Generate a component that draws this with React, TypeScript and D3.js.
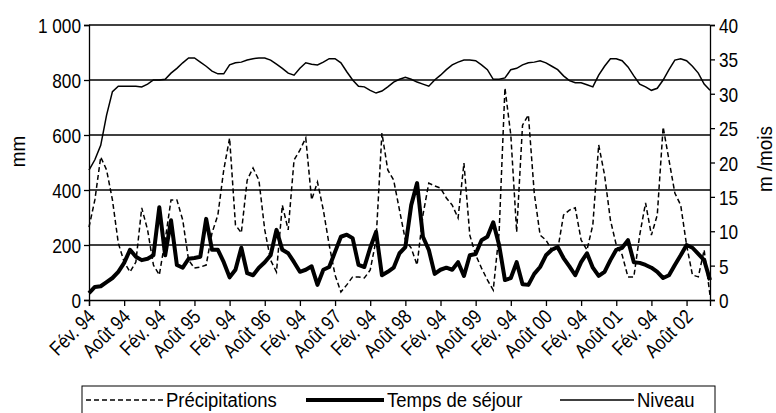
import React, { useEffect, useRef } from "react";
import * as d3 from "d3";

// monthly series, Feb 1994 -> Dec 2002
const precipitations = [
  265, 364, 520, 473, 364, 207, 138, 102, 138, 335,
  255, 127, 91, 218, 364, 364, 291, 145, 116, 120,
  127, 244, 309, 473, 589, 273, 244, 436, 480, 436,
  255, 145, 102, 345, 255, 509, 545, 589, 364, 429,
  327, 200, 91, 29, 55, 84, 84, 80, 109, 218,
  607, 473, 436, 327, 218, 189, 127, 309, 425, 415,
  407, 371, 345, 298, 498, 236, 164, 116, 73, 36,
  244, 771, 600, 247, 636, 673, 389, 236, 218, 182,
  182, 309, 327, 335, 218, 182, 273, 564, 455, 291,
  200, 164, 84, 84, 236, 353, 236, 309, 629, 509,
  389, 345, 200, 91, 84, 182, 18,
];

const tempsSejour = [
  1.0, 1.9, 2.0, 2.6, 3.2, 4.1, 5.4, 7.3, 6.3, 5.8,
  6.0, 6.5, 13.5, 6.5, 11.6, 5.1, 4.7, 6.0, 6.1, 6.3,
  11.8, 7.3, 7.3, 5.5, 3.3, 4.4, 7.6, 3.9, 3.6, 4.7,
  5.5, 6.5, 10.2, 7.3, 6.8, 5.5, 4.1, 4.4, 4.9, 2.2,
  4.4, 4.8, 7.0, 9.2, 9.5, 9.0, 5.1, 4.8, 7.6, 9.9,
  3.6, 4.1, 4.7, 6.8, 7.7, 13.8, 17.0, 9.2, 7.3, 3.8,
  4.4, 4.7, 4.4, 5.5, 3.5, 6.5, 6.7, 8.7, 9.2, 11.3,
  8.0, 2.9, 3.2, 5.5, 2.3, 2.2, 3.8, 4.8, 6.5, 7.3,
  7.7, 6.1, 4.9, 3.6, 5.5, 6.8, 4.7, 3.5, 4.1, 5.8,
  7.3, 7.6, 8.7, 5.5, 5.4, 5.1, 4.7, 4.1, 3.2, 3.6,
  5.1, 6.5, 8.0, 7.6, 6.7, 5.8, 2.9,
];

const niveau = [
  18.9, 20.4, 22.5, 26.9, 30.3, 31.1, 31.1, 31.1, 31.1, 31.0,
  31.4, 32.0, 32.0, 32.1, 33.0, 33.7, 34.5, 35.2, 35.2, 34.6,
  34.0, 33.3, 32.9, 32.9, 34.2, 34.5, 34.6, 34.9, 35.1, 35.2,
  35.2, 34.9, 34.3, 33.7, 33.0, 32.7, 33.7, 34.5, 34.3, 34.2,
  34.6, 35.1, 35.1, 34.5, 33.2, 32.0, 31.1, 31.0, 30.5, 30.1,
  30.4, 31.0, 31.7, 32.1, 32.4, 32.1, 31.7, 31.4, 31.1, 32.0,
  32.7, 33.5, 34.2, 34.6, 34.9, 34.9, 34.8, 34.2, 33.5, 32.1,
  32.1, 32.3, 33.5, 33.7, 34.2, 34.5, 34.6, 34.8, 34.5, 34.0,
  33.5, 32.6, 31.9, 31.6, 31.6, 31.3, 31.0, 32.7, 34.0, 35.1,
  35.1, 34.8, 33.9, 32.6, 31.4, 31.0, 30.5, 30.8, 32.0, 33.5,
  34.9, 35.1, 34.8, 34.0, 33.0, 31.4, 30.5,
];

// one label every 6 months (as printed on the original)
const xTickLabels = [
  "Fév. 94", "Août 94", "Fév. 94", "Août 95", "Fév. 94", "Août 96",
  "Fév. 94", "Août 97", "Fév. 94", "Août 98", "Fév. 94", "Août 99",
  "Fév. 94", "Août 00", "Fév. 94", "Août 01", "Fév. 94", "Août 02",
];
const leftTicks = [0, 200, 400, 600, 800, 1000];
const rightTicks = [0, 5, 10, 15, 20, 25, 30, 35, 40];

// no narrow font installed -> squeeze Liberation Sans horizontally
const FONT = "'Liberation Sans', Arial, sans-serif";
const SQ = 0.82;

const App = () => {
  const ref = useRef<SVGSVGElement>(null);

  useEffect(() => {
    const svg = d3.select(ref.current);
    svg.selectAll("*").remove();

    const margin = { left: 89, right: 66, top: 25, bottom: 113 };
    const W = 776;
    const H = 413;
    const x0 = margin.left;
    const x1 = W - margin.right;
    const yBottom = H - margin.bottom;

    const idx = d3.range(precipitations.length);
    const x = d3.scaleLinear().domain([0, idx.length - 1]).range([x0, x1]);
    const yL = d3.scaleLinear().domain([0, 1000]).range([yBottom, margin.top]);
    const yR = d3.scaleLinear().domain([0, 40]).range([yBottom, margin.top]);

    // gridlines
    svg
      .append("g")
      .selectAll("line")
      .data(leftTicks.slice(1))
      .enter()
      .append("line")
      .attr("x1", x0)
      .attr("x2", x1)
      .attr("y1", (d) => yL(d))
      .attr("y2", (d) => yL(d))
      .attr("stroke", "#000")
      .attr("stroke-width", 1.3);

    // left axis
    const leftAxis = d3
      .axisLeft(yL)
      .tickValues(leftTicks)
      .tickSize(5)
      .tickFormat((d) => (d === 1000 ? "1 000" : String(d)));
    const gl = svg.append("g").attr("transform", `translate(${x0},0)`).call(leftAxis);

    // right axis
    const rightAxis = d3.axisRight(yR).tickValues(rightTicks).tickSize(5);
    const gr = svg.append("g").attr("transform", `translate(${x1},0)`).call(rightAxis);

    // bottom axis
    const tickIdx = xTickLabels.map((_, i) => i * 6);
    const bottomAxis = d3
      .axisBottom(x)
      .tickValues(tickIdx)
      .tickSize(6)
      .tickFormat((_, i) => xTickLabels[i]);
    const gb = svg.append("g").attr("transform", `translate(0,${yBottom})`).call(bottomAxis);

    [gl, gr, gb].forEach((g) => {
      g.select(".domain").attr("stroke", "#000").attr("stroke-width", 1.3);
      g.selectAll(".tick line").attr("stroke", "#000").attr("stroke-width", 1.3);
      g.selectAll("text")
        .attr("fill", "#000")
        .style("font-family", FONT)
        .style("font-size", "21px");
    });
    gl.selectAll("text")
      .attr("x", 0)
      .attr("dy", "0.36em")
      .attr("transform", `translate(-8,0) scale(${SQ},1)`);
    gr.selectAll("text")
      .attr("x", 0)
      .attr("dy", "0.36em")
      .attr("transform", `translate(9,0) scale(${SQ},1)`);

    gb.selectAll("text")
      .attr("text-anchor", "end")
      .attr("dy", "0.35em")
      .attr("x", 0)
      .attr("y", 0)
      .style("font-size", "20px")
      .attr("transform", `translate(2,13) rotate(-45) scale(0.84,1)`);

    // axis titles
    svg
      .append("text")
      .attr("transform", `translate(25,${yL(540)}) rotate(-90) scale(0.9,1)`)
      .attr("text-anchor", "middle")
      .style("font-family", FONT)
      .style("font-size", "21px")
      .text("mm");
    svg
      .append("text")
      .attr("transform", `translate(772,${yR(20.5)}) rotate(-90) scale(0.9,1)`)
      .attr("text-anchor", "middle")
      .style("font-family", FONT)
      .style("font-size", "21px")
      .text("m /mois");

    // lines
    const lineP = d3
      .line<number>()
      .x((_, i) => x(i))
      .y((d) => yL(d));
    const lineR = d3
      .line<number>()
      .x((_, i) => x(i))
      .y((d) => yR(d));

    svg
      .append("path")
      .datum(precipitations)
      .attr("fill", "none")
      .attr("stroke", "#000")
      .attr("stroke-width", 1.5)
      .attr("stroke-dasharray", "5,3")
      .attr("d", lineP);

    svg
      .append("path")
      .datum(niveau)
      .attr("fill", "none")
      .attr("stroke", "#000")
      .attr("stroke-width", 1.5)
      .attr("d", lineR);

    svg
      .append("path")
      .datum(tempsSejour)
      .attr("fill", "none")
      .attr("stroke", "#000")
      .attr("stroke-width", 4)
      .attr("stroke-linejoin", "round")
      .attr("d", lineR);

    // legend
    const legend = svg.append("g");
    legend
      .append("rect")
      .attr("x", 82)
      .attr("y", 386)
      .attr("width", 633)
      .attr("height", 40)
      .attr("fill", "#fff")
      .attr("stroke", "#000")
      .attr("stroke-width", 1);

    const items = [
      { label: "Précipitations", x1: 86, x2: 163, width: 1.5, dash: "5,3" },
      { label: "Temps de séjour", x1: 306, x2: 384, width: 4, dash: null },
      { label: "Niveau", x1: 560, x2: 634, width: 1.5, dash: null },
    ];
    items.forEach((it) => {
      legend
        .append("line")
        .attr("x1", it.x1)
        .attr("x2", it.x2)
        .attr("y1", 400)
        .attr("y2", 400)
        .attr("stroke", "#000")
        .attr("stroke-width", it.width)
        .attr("stroke-dasharray", it.dash);
      legend
        .append("text")
        .attr("transform", `translate(${it.x2 + 3},407) scale(0.88,1)`)
        .style("font-family", FONT)
        .style("font-size", "21px")
        .text(it.label);
    });
  }, []);

  return (
    <svg
      ref={ref}
      width={776}
      height={413}
      style={{ position: "absolute", left: 0, top: 0, background: "#fff" }}
    />
  );
};

export default App;
